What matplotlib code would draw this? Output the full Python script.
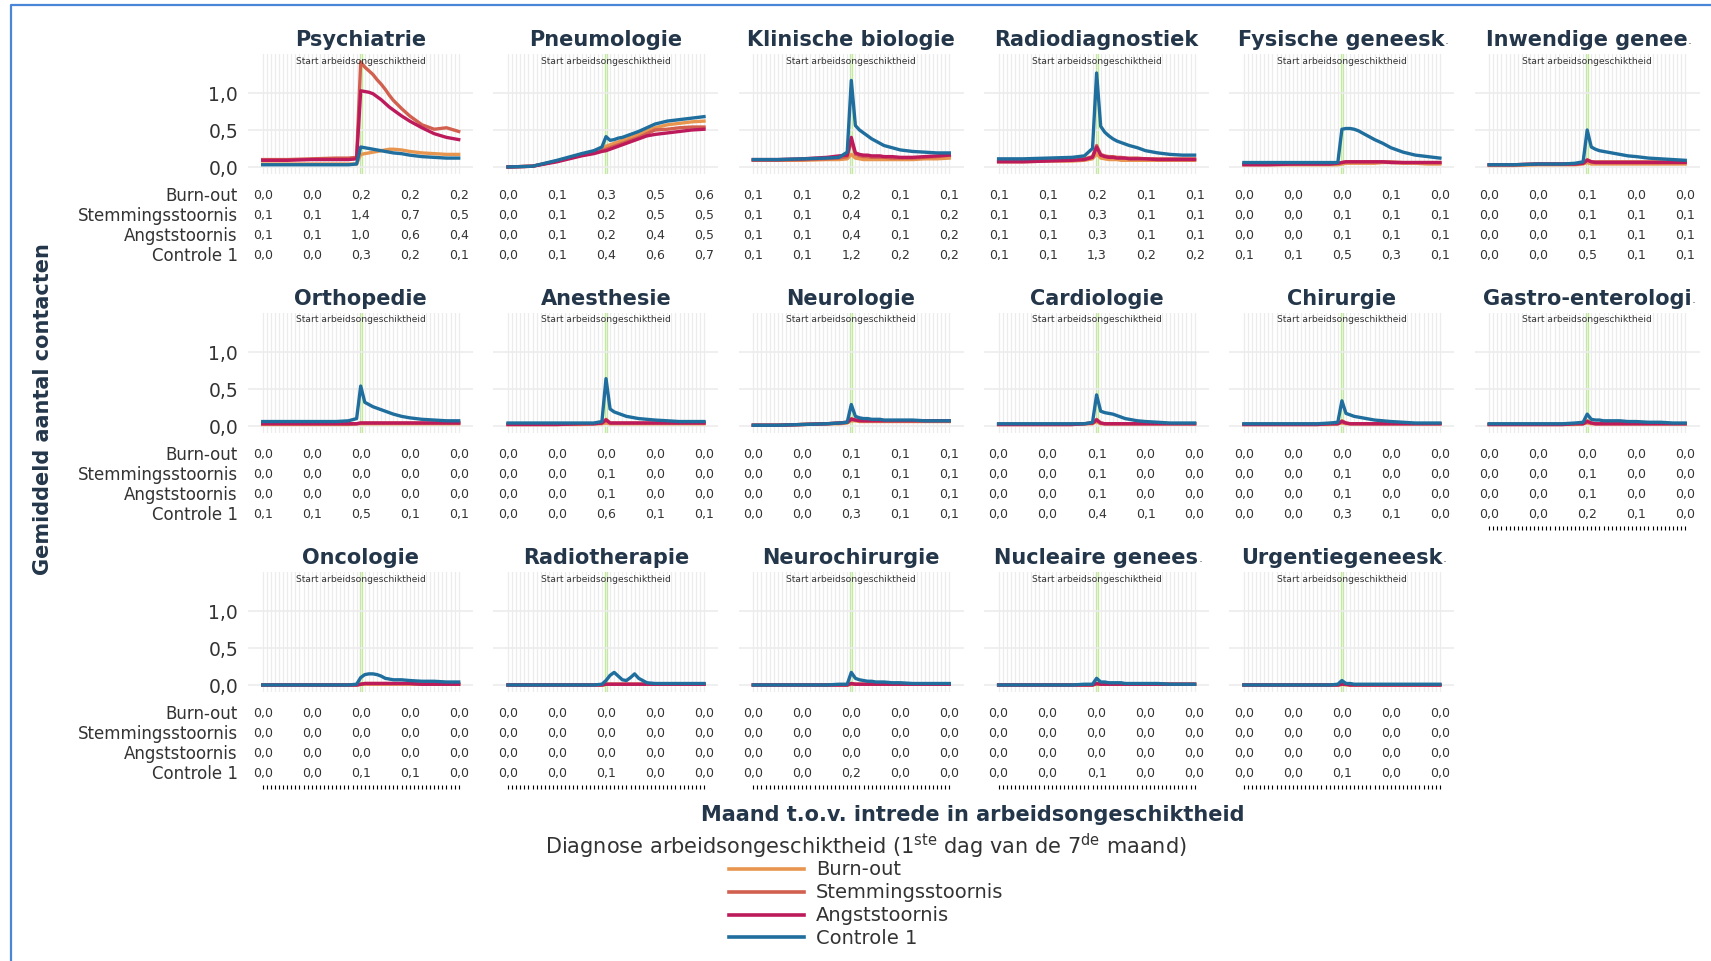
"""
Gemiddeld aantal contacten per specialisme rond de start van arbeidsongeschiktheid,
per diagnosegroep, met een tabel van de waarden op -24, -12, 0, 12 en 24 maanden.
"""

import matplotlib
matplotlib.use("Agg")
import matplotlib.pyplot as plt
from matplotlib.lines import Line2D
from matplotlib.transforms import blended_transform_factory

# ─── data ───────────────────────────────────────────────────────────────────
MONTHS = [-24, -18, -12, -6, -3, -1, 0, 1, 2, 3, 4, 5, 6, 7, 8, 10, 12, 15, 18, 21, 24]
TABLE_MONTHS = [-24, -12, 0, 12, 24]
GRID_MONTHS = list(range(-24, 25))

GROUPS = ["Burn-out", "Stemmingsstoornis", "Angststoornis", "Controle 1"]
COLORS = ["#E8964F", "#D2604F", "#BD1A5B", "#1F6E9E"]

PSY_BURN  = [0.04, 0.04, 0.04, 0.04, 0.04, 0.04, 0.17, 0.18, 0.19, 0.20, 0.21, 0.22, 0.23, 0.24, 0.24, 0.23, 0.21, 0.19, 0.18, 0.17, 0.17]
PSY_STEM  = [0.10, 0.10, 0.11, 0.12, 0.12, 0.13, 1.42, 1.35, 1.30, 1.25, 1.18, 1.12, 1.05, 0.97, 0.90, 0.79, 0.69, 0.57, 0.51, 0.53, 0.48]
PSY_ANGST = [0.09, 0.09, 0.10, 0.10, 0.10, 0.11, 1.03, 1.02, 1.01, 0.99, 0.95, 0.91, 0.86, 0.81, 0.77, 0.69, 0.62, 0.53, 0.45, 0.40, 0.37]
PSY_CTRL  = [0.03, 0.03, 0.03, 0.03, 0.03, 0.04, 0.27, 0.26, 0.25, 0.24, 0.23, 0.22, 0.21, 0.20, 0.19, 0.18, 0.16, 0.14, 0.13, 0.12, 0.12]

PNEU_BURN  = [0.00, 0.01, 0.08, 0.17, 0.21, 0.25, 0.28, 0.30, 0.32, 0.34, 0.36, 0.38, 0.40, 0.42, 0.44, 0.49, 0.53, 0.57, 0.59, 0.61, 0.62]
PNEU_STEM  = [0.00, 0.01, 0.08, 0.16, 0.19, 0.22, 0.24, 0.26, 0.28, 0.30, 0.32, 0.34, 0.36, 0.38, 0.40, 0.45, 0.50, 0.51, 0.53, 0.54, 0.54]
PNEU_ANGST = [0.00, 0.01, 0.07, 0.15, 0.18, 0.21, 0.22, 0.24, 0.26, 0.28, 0.30, 0.32, 0.34, 0.36, 0.38, 0.42, 0.44, 0.46, 0.48, 0.50, 0.51]
PNEU_CTRL  = [0.00, 0.01, 0.09, 0.18, 0.22, 0.27, 0.41, 0.36, 0.37, 0.39, 0.40, 0.42, 0.44, 0.46, 0.48, 0.53, 0.58, 0.62, 0.64, 0.66, 0.68]

KLIN_BURN  = [0.09, 0.09, 0.09, 0.10, 0.10, 0.11, 0.17, 0.12, 0.11, 0.10, 0.10, 0.10, 0.10, 0.10, 0.10, 0.10, 0.10, 0.10, 0.11, 0.11, 0.12]
KLIN_STEM  = [0.09, 0.09, 0.10, 0.11, 0.12, 0.14, 0.36, 0.17, 0.15, 0.14, 0.14, 0.13, 0.13, 0.13, 0.13, 0.12, 0.12, 0.12, 0.13, 0.14, 0.16]
KLIN_ANGST = [0.10, 0.10, 0.11, 0.13, 0.15, 0.16, 0.40, 0.19, 0.17, 0.16, 0.16, 0.15, 0.15, 0.15, 0.14, 0.14, 0.13, 0.13, 0.14, 0.15, 0.16]
KLIN_CTRL  = [0.10, 0.10, 0.11, 0.12, 0.13, 0.20, 1.17, 0.56, 0.50, 0.46, 0.42, 0.38, 0.35, 0.32, 0.29, 0.26, 0.23, 0.21, 0.20, 0.19, 0.19]

RADD_BURN  = [0.07, 0.07, 0.08, 0.08, 0.09, 0.11, 0.18, 0.12, 0.11, 0.10, 0.10, 0.10, 0.09, 0.09, 0.09, 0.09, 0.09, 0.09, 0.09, 0.09, 0.09]
RADD_STEM  = [0.08, 0.08, 0.09, 0.10, 0.11, 0.14, 0.29, 0.17, 0.15, 0.14, 0.14, 0.13, 0.13, 0.12, 0.12, 0.12, 0.11, 0.11, 0.11, 0.11, 0.11]
RADD_ANGST = [0.07, 0.07, 0.08, 0.09, 0.10, 0.13, 0.27, 0.16, 0.14, 0.13, 0.13, 0.12, 0.12, 0.12, 0.11, 0.11, 0.11, 0.10, 0.10, 0.10, 0.10]
RADD_CTRL  = [0.11, 0.11, 0.12, 0.13, 0.15, 0.25, 1.27, 0.55, 0.47, 0.42, 0.38, 0.35, 0.33, 0.31, 0.29, 0.26, 0.22, 0.19, 0.17, 0.16, 0.16]

FYS_BURN  = [0.03, 0.03, 0.03, 0.03, 0.03, 0.03, 0.04, 0.05, 0.05, 0.05, 0.05, 0.05, 0.05, 0.05, 0.05, 0.06, 0.06, 0.05, 0.05, 0.04, 0.04]
FYS_STEM  = [0.04, 0.04, 0.04, 0.04, 0.04, 0.05, 0.06, 0.07, 0.07, 0.07, 0.07, 0.07, 0.07, 0.07, 0.07, 0.07, 0.07, 0.06, 0.06, 0.06, 0.06]
FYS_ANGST = [0.03, 0.03, 0.04, 0.04, 0.04, 0.05, 0.06, 0.07, 0.07, 0.07, 0.07, 0.07, 0.07, 0.07, 0.07, 0.07, 0.06, 0.06, 0.06, 0.06, 0.06]
FYS_CTRL  = [0.06, 0.06, 0.06, 0.06, 0.06, 0.06, 0.51, 0.52, 0.52, 0.51, 0.49, 0.46, 0.43, 0.40, 0.37, 0.32, 0.26, 0.20, 0.16, 0.14, 0.12]

INW_BURN  = [0.02, 0.02, 0.03, 0.03, 0.03, 0.04, 0.06, 0.04, 0.04, 0.04, 0.04, 0.04, 0.04, 0.04, 0.04, 0.04, 0.04, 0.04, 0.04, 0.04, 0.04]
INW_STEM  = [0.03, 0.03, 0.04, 0.04, 0.04, 0.05, 0.10, 0.07, 0.07, 0.07, 0.07, 0.07, 0.07, 0.07, 0.07, 0.07, 0.07, 0.07, 0.07, 0.07, 0.07]
INW_ANGST = [0.03, 0.03, 0.04, 0.04, 0.04, 0.05, 0.09, 0.07, 0.06, 0.06, 0.06, 0.06, 0.06, 0.06, 0.06, 0.06, 0.06, 0.06, 0.06, 0.06, 0.06]
INW_CTRL  = [0.03, 0.03, 0.04, 0.04, 0.05, 0.07, 0.50, 0.27, 0.24, 0.22, 0.21, 0.20, 0.19, 0.18, 0.17, 0.15, 0.14, 0.12, 0.11, 0.10, 0.09]

ORTH_BURN  = [0.02, 0.02, 0.02, 0.02, 0.02, 0.03, 0.03, 0.03, 0.03, 0.03, 0.03, 0.03, 0.03, 0.03, 0.03, 0.03, 0.03, 0.03, 0.03, 0.03, 0.03]
ORTH_STEM  = [0.03, 0.03, 0.03, 0.03, 0.03, 0.03, 0.04, 0.04, 0.04, 0.04, 0.04, 0.04, 0.04, 0.04, 0.04, 0.04, 0.04, 0.04, 0.04, 0.04, 0.04]
ORTH_ANGST = [0.03, 0.03, 0.03, 0.03, 0.03, 0.03, 0.04, 0.04, 0.04, 0.04, 0.04, 0.04, 0.04, 0.04, 0.04, 0.04, 0.04, 0.04, 0.04, 0.04, 0.04]
ORTH_CTRL  = [0.06, 0.06, 0.06, 0.06, 0.07, 0.10, 0.54, 0.32, 0.29, 0.26, 0.24, 0.22, 0.20, 0.18, 0.16, 0.13, 0.11, 0.09, 0.08, 0.07, 0.07]

ANES_BURN  = [0.02, 0.02, 0.02, 0.02, 0.03, 0.03, 0.04, 0.03, 0.03, 0.03, 0.03, 0.03, 0.03, 0.03, 0.03, 0.03, 0.03, 0.03, 0.03, 0.03, 0.03]
ANES_STEM  = [0.02, 0.02, 0.02, 0.03, 0.03, 0.04, 0.09, 0.04, 0.04, 0.04, 0.04, 0.04, 0.04, 0.04, 0.04, 0.04, 0.04, 0.04, 0.04, 0.04, 0.04]
ANES_ANGST = [0.02, 0.02, 0.02, 0.03, 0.03, 0.04, 0.08, 0.04, 0.04, 0.04, 0.04, 0.04, 0.04, 0.04, 0.04, 0.04, 0.04, 0.04, 0.04, 0.04, 0.04]
ANES_CTRL  = [0.04, 0.04, 0.04, 0.04, 0.04, 0.06, 0.64, 0.23, 0.19, 0.17, 0.15, 0.13, 0.12, 0.11, 0.10, 0.09, 0.08, 0.07, 0.06, 0.06, 0.06]

NEUR_BURN  = [0.01, 0.01, 0.02, 0.03, 0.03, 0.04, 0.07, 0.07, 0.06, 0.06, 0.06, 0.06, 0.06, 0.06, 0.06, 0.06, 0.06, 0.06, 0.06, 0.06, 0.06]
NEUR_STEM  = [0.01, 0.01, 0.02, 0.03, 0.04, 0.05, 0.10, 0.08, 0.08, 0.07, 0.07, 0.07, 0.07, 0.07, 0.07, 0.07, 0.07, 0.07, 0.07, 0.07, 0.07]
NEUR_ANGST = [0.01, 0.01, 0.02, 0.03, 0.04, 0.05, 0.09, 0.08, 0.07, 0.07, 0.07, 0.07, 0.07, 0.07, 0.07, 0.07, 0.07, 0.07, 0.07, 0.07, 0.07]
NEUR_CTRL  = [0.01, 0.01, 0.02, 0.03, 0.04, 0.05, 0.29, 0.13, 0.11, 0.10, 0.10, 0.09, 0.09, 0.09, 0.08, 0.08, 0.08, 0.08, 0.07, 0.07, 0.07]

CARD_BURN  = [0.02, 0.02, 0.02, 0.02, 0.03, 0.03, 0.06, 0.03, 0.03, 0.03, 0.03, 0.03, 0.03, 0.03, 0.03, 0.03, 0.03, 0.03, 0.03, 0.03, 0.03]
CARD_STEM  = [0.02, 0.02, 0.02, 0.02, 0.03, 0.04, 0.09, 0.04, 0.03, 0.03, 0.03, 0.03, 0.03, 0.03, 0.03, 0.03, 0.03, 0.03, 0.03, 0.03, 0.03]
CARD_ANGST = [0.02, 0.02, 0.02, 0.02, 0.03, 0.04, 0.08, 0.04, 0.03, 0.03, 0.03, 0.03, 0.03, 0.03, 0.03, 0.03, 0.03, 0.03, 0.03, 0.03, 0.03]
CARD_CTRL  = [0.03, 0.03, 0.03, 0.03, 0.03, 0.05, 0.42, 0.20, 0.18, 0.17, 0.16, 0.14, 0.12, 0.10, 0.09, 0.07, 0.06, 0.05, 0.04, 0.04, 0.04]

CHIR_BURN  = [0.02, 0.02, 0.02, 0.02, 0.02, 0.03, 0.04, 0.03, 0.03, 0.03, 0.03, 0.03, 0.03, 0.03, 0.03, 0.03, 0.03, 0.03, 0.03, 0.03, 0.03]
CHIR_STEM  = [0.02, 0.02, 0.02, 0.02, 0.03, 0.03, 0.07, 0.04, 0.03, 0.03, 0.03, 0.03, 0.03, 0.03, 0.03, 0.03, 0.03, 0.03, 0.03, 0.03, 0.03]
CHIR_ANGST = [0.02, 0.02, 0.02, 0.02, 0.03, 0.03, 0.06, 0.04, 0.03, 0.03, 0.03, 0.03, 0.03, 0.03, 0.03, 0.03, 0.03, 0.03, 0.03, 0.03, 0.03]
CHIR_CTRL  = [0.03, 0.03, 0.03, 0.03, 0.04, 0.05, 0.34, 0.17, 0.15, 0.13, 0.12, 0.11, 0.10, 0.09, 0.08, 0.07, 0.06, 0.05, 0.04, 0.04, 0.04]

GAST_BURN  = [0.02, 0.02, 0.02, 0.02, 0.02, 0.03, 0.04, 0.03, 0.03, 0.03, 0.03, 0.03, 0.03, 0.03, 0.03, 0.03, 0.03, 0.03, 0.03, 0.03, 0.03]
GAST_STEM  = [0.02, 0.02, 0.02, 0.02, 0.03, 0.03, 0.07, 0.04, 0.03, 0.03, 0.03, 0.03, 0.03, 0.03, 0.03, 0.03, 0.03, 0.03, 0.03, 0.03, 0.03]
GAST_ANGST = [0.02, 0.02, 0.02, 0.02, 0.03, 0.03, 0.06, 0.04, 0.03, 0.03, 0.03, 0.03, 0.03, 0.03, 0.03, 0.03, 0.03, 0.03, 0.03, 0.03, 0.03]
GAST_CTRL  = [0.03, 0.03, 0.03, 0.03, 0.04, 0.05, 0.16, 0.09, 0.08, 0.08, 0.07, 0.07, 0.07, 0.07, 0.07, 0.06, 0.06, 0.05, 0.05, 0.04, 0.04]

ONCO_BURN  = [0.00, 0.00, 0.00, 0.00, 0.00, 0.00, 0.01, 0.01, 0.01, 0.01, 0.01, 0.01, 0.01, 0.01, 0.01, 0.01, 0.01, 0.01, 0.01, 0.01, 0.01]
ONCO_STEM  = [0.00, 0.00, 0.00, 0.00, 0.00, 0.00, 0.01, 0.02, 0.02, 0.02, 0.02, 0.02, 0.02, 0.02, 0.02, 0.02, 0.02, 0.01, 0.01, 0.01, 0.01]
ONCO_ANGST = [0.00, 0.00, 0.00, 0.00, 0.00, 0.00, 0.01, 0.02, 0.02, 0.02, 0.02, 0.02, 0.02, 0.02, 0.02, 0.02, 0.02, 0.01, 0.01, 0.01, 0.01]
ONCO_CTRL  = [0.00, 0.00, 0.00, 0.00, 0.00, 0.01, 0.10, 0.14, 0.15, 0.15, 0.14, 0.12, 0.09, 0.08, 0.07, 0.07, 0.06, 0.05, 0.05, 0.04, 0.04]

RADT_BURN  = [0.00, 0.00, 0.00, 0.00, 0.00, 0.00, 0.01, 0.01, 0.01, 0.01, 0.01, 0.01, 0.01, 0.01, 0.01, 0.01, 0.01, 0.01, 0.01, 0.01, 0.01]
RADT_STEM  = [0.00, 0.00, 0.00, 0.00, 0.00, 0.00, 0.01, 0.01, 0.01, 0.01, 0.01, 0.01, 0.01, 0.01, 0.01, 0.01, 0.01, 0.01, 0.01, 0.01, 0.01]
RADT_ANGST = [0.00, 0.00, 0.00, 0.00, 0.00, 0.00, 0.01, 0.01, 0.01, 0.01, 0.01, 0.01, 0.01, 0.01, 0.01, 0.01, 0.01, 0.01, 0.01, 0.01, 0.01]
RADT_CTRL  = [0.00, 0.00, 0.00, 0.00, 0.00, 0.01, 0.06, 0.13, 0.17, 0.12, 0.07, 0.06, 0.10, 0.15, 0.09, 0.03, 0.02, 0.02, 0.02, 0.02, 0.02]

NCHI_BURN  = [0.00, 0.00, 0.00, 0.00, 0.00, 0.00, 0.01, 0.01, 0.01, 0.01, 0.01, 0.01, 0.01, 0.01, 0.01, 0.01, 0.01, 0.01, 0.01, 0.01, 0.01]
NCHI_STEM  = [0.00, 0.00, 0.00, 0.00, 0.00, 0.00, 0.02, 0.01, 0.01, 0.01, 0.01, 0.01, 0.01, 0.01, 0.01, 0.01, 0.01, 0.01, 0.01, 0.01, 0.01]
NCHI_ANGST = [0.00, 0.00, 0.00, 0.00, 0.00, 0.00, 0.02, 0.01, 0.01, 0.01, 0.01, 0.01, 0.01, 0.01, 0.01, 0.01, 0.01, 0.01, 0.01, 0.01, 0.01]
NCHI_CTRL  = [0.00, 0.00, 0.00, 0.00, 0.01, 0.01, 0.17, 0.09, 0.07, 0.06, 0.05, 0.05, 0.04, 0.04, 0.04, 0.03, 0.03, 0.02, 0.02, 0.02, 0.02]

NUCL_BURN  = [0.00, 0.00, 0.00, 0.00, 0.00, 0.00, 0.01, 0.01, 0.01, 0.01, 0.01, 0.01, 0.01, 0.01, 0.01, 0.01, 0.01, 0.01, 0.01, 0.01, 0.01]
NUCL_STEM  = [0.00, 0.00, 0.00, 0.00, 0.00, 0.00, 0.02, 0.01, 0.01, 0.01, 0.01, 0.01, 0.01, 0.01, 0.01, 0.01, 0.01, 0.01, 0.01, 0.01, 0.01]
NUCL_ANGST = [0.00, 0.00, 0.00, 0.00, 0.00, 0.00, 0.02, 0.01, 0.01, 0.01, 0.01, 0.01, 0.01, 0.01, 0.01, 0.01, 0.01, 0.01, 0.01, 0.01, 0.01]
NUCL_CTRL  = [0.00, 0.00, 0.00, 0.00, 0.01, 0.01, 0.09, 0.04, 0.04, 0.03, 0.03, 0.03, 0.03, 0.02, 0.02, 0.02, 0.02, 0.02, 0.01, 0.01, 0.01]

URG_BURN  = [0.00, 0.00, 0.00, 0.00, 0.00, 0.00, 0.01, 0.00, 0.00, 0.00, 0.00, 0.00, 0.00, 0.00, 0.00, 0.00, 0.00, 0.00, 0.00, 0.00, 0.00]
URG_STEM  = [0.00, 0.00, 0.00, 0.00, 0.00, 0.00, 0.01, 0.01, 0.00, 0.00, 0.00, 0.00, 0.00, 0.00, 0.00, 0.00, 0.00, 0.00, 0.00, 0.00, 0.00]
URG_ANGST = [0.00, 0.00, 0.00, 0.00, 0.00, 0.00, 0.01, 0.01, 0.00, 0.00, 0.00, 0.00, 0.00, 0.00, 0.00, 0.00, 0.00, 0.00, 0.00, 0.00, 0.00]
URG_CTRL  = [0.00, 0.00, 0.00, 0.00, 0.00, 0.01, 0.06, 0.02, 0.02, 0.01, 0.01, 0.01, 0.01, 0.01, 0.01, 0.01, 0.01, 0.01, 0.01, 0.01, 0.01]

# paneeltitels; True = titel is afgekapt
TITLES = [
    ("Psychiatrie", False), ("Pneumologie", False), ("Klinische biologie", False),
    ("Radiodiagnostiek", False), ("Fysische geneesk", True), ("Inwendige genee", True),
    ("Orthopedie", False), ("Anesthesie", False), ("Neurologie", False),
    ("Cardiologie", False), ("Chirurgie", False), ("Gastro-enterologi", True),
    ("Oncologie", False), ("Radiotherapie", False), ("Neurochirurgie", False),
    ("Nucleaire genees", True), ("Urgentiegeneesk", True),
]
SERIES = [
    [PSY_BURN, PSY_STEM, PSY_ANGST, PSY_CTRL],
    [PNEU_BURN, PNEU_STEM, PNEU_ANGST, PNEU_CTRL],
    [KLIN_BURN, KLIN_STEM, KLIN_ANGST, KLIN_CTRL],
    [RADD_BURN, RADD_STEM, RADD_ANGST, RADD_CTRL],
    [FYS_BURN, FYS_STEM, FYS_ANGST, FYS_CTRL],
    [INW_BURN, INW_STEM, INW_ANGST, INW_CTRL],
    [ORTH_BURN, ORTH_STEM, ORTH_ANGST, ORTH_CTRL],
    [ANES_BURN, ANES_STEM, ANES_ANGST, ANES_CTRL],
    [NEUR_BURN, NEUR_STEM, NEUR_ANGST, NEUR_CTRL],
    [CARD_BURN, CARD_STEM, CARD_ANGST, CARD_CTRL],
    [CHIR_BURN, CHIR_STEM, CHIR_ANGST, CHIR_CTRL],
    [GAST_BURN, GAST_STEM, GAST_ANGST, GAST_CTRL],
    [ONCO_BURN, ONCO_STEM, ONCO_ANGST, ONCO_CTRL],
    [RADT_BURN, RADT_STEM, RADT_ANGST, RADT_CTRL],
    [NCHI_BURN, NCHI_STEM, NCHI_ANGST, NCHI_CTRL],
    [NUCL_BURN, NUCL_STEM, NUCL_ANGST, NUCL_CTRL],
    [URG_BURN, URG_STEM, URG_ANGST, URG_CTRL],
]

# ─── layout (pixels) ────────────────────────────────────────────────────────
W, H, DPI = 1711, 962, 100
N_COLS = 6
AX_LEFT, AX_TOP = 248, 55
AX_W, AX_H = 225, 120
COL_STEP, ROW_STEP = 245.3, 259
TABLE_ROWS_PX = [21, 41, 61, 81]      # afstand onder de as
TICKS_PX = 93

TITLE_COLOR = "#24364A"
TEXT_COLOR = "#333333"
GRID_COLOR = "#ECECEC"
NARROW = ["Liberation Sans Narrow", "DejaVu Sans"]


def fmt(v):
    return f"{v:.1f}".replace(".", ",")


def draw_panel(fig, idx):
    r, c = divmod(idx, N_COLS)
    left = AX_LEFT + c * COL_STEP
    top = AX_TOP + r * ROW_STEP
    ax = fig.add_axes([left / W, 1 - (top + AX_H) / H, AX_W / W, AX_H / H])

    title, truncated = TITLES[idx]
    series = SERIES[idx]

    ax.set_xlim(-27.6, 27.5)
    ax.set_ylim(-0.095, 1.527)
    for s in ax.spines.values():
        s.set_visible(False)

    # maandelijkse verticale rasterlijnen + horizontale op 0 / 0,5 / 1
    ax.set_xticks(GRID_MONTHS)
    ax.set_yticks([0, 0.5, 1.0])
    ax.grid(axis="x", color=GRID_COLOR, lw=0.9, zorder=0)
    ax.grid(axis="y", color=GRID_COLOR, lw=1.2, zorder=0)

    is_bottom = idx + N_COLS >= len(TITLES)
    ax.spines["bottom"].set_position(("outward", TICKS_PX * 72 / DPI))
    ax.tick_params(axis="x", labelbottom=False, length=3.2 if is_bottom else 0,
                   width=0.8, color="black")
    ax.tick_params(axis="y", length=0, pad=7.2, labelsize=13.5, labelcolor=TEXT_COLOR)
    if c == 0:
        ax.set_yticklabels([fmt(t) for t in (0, 0.5, 1.0)])
    else:
        ax.set_yticklabels([])

    ax.axvline(0, color="#BDEB8F", lw=2.4, zorder=1)
    for vals, col in zip(series, COLORS):
        ax.plot(MONTHS, vals, color=col, lw=2.4, solid_joinstyle="round", zorder=2)

    ax.text(0, 1 - 6 / AX_H, "Start arbeidsongeschiktheid", ha="center", va="center",
            fontsize=6.6, family=NARROW, color=TEXT_COLOR,
            transform=blended_transform_factory(ax.transData, ax.transAxes))

    t = ax.text(0.5, 1 + 15 / AX_H, title, ha="center", va="center", fontsize=15,
                fontweight="bold", color=TITLE_COLOR, transform=ax.transAxes)
    if truncated:
        ax.annotate(".", xy=(1, 0.15), xycoords=t, fontsize=9, color="#666666",
                    ha="left", va="bottom")

    # tabel met waarden onder het paneel
    trans = blended_transform_factory(ax.transData, ax.transAxes)
    for vals, dy, label in zip(series, TABLE_ROWS_PX, GROUPS):
        y = -dy / AX_H
        for m in TABLE_MONTHS:
            ax.text(m, y, fmt(vals[MONTHS.index(m)]), ha="center", va="center",
                    fontsize=9, color=TEXT_COLOR, transform=trans, clip_on=False)
        if c == 0:
            ax.text(-10 / AX_W, y, label, ha="right", va="center", fontsize=12,
                    color=TEXT_COLOR, transform=ax.transAxes, clip_on=False)
    return ax


def main():
    fig = plt.figure(figsize=(W / DPI, H / DPI), dpi=DPI)
    fig.patch.set_facecolor("white")

    # overlay in pixelcoördinaten voor kader, astitels en legenda
    ov = fig.add_axes([0, 0, 1, 1], zorder=-1)
    ov.set_xlim(0, W)
    ov.set_ylim(H, 0)
    ov.axis("off")
    ov.plot([11, 11, W + 5], [H + 5, 6, 6], color="#4A86D8", lw=1.6)

    for i in range(len(TITLES)):
        draw_panel(fig, i)

    ov.text(43, 409, "Gemiddeld aantal contacten", rotation=90, ha="center",
            va="center", fontsize=15, fontweight="bold", color=TITLE_COLOR)
    ov.text(973, 815, "Maand t.o.v. intrede in arbeidsongeschiktheid", ha="center",
            va="center", fontsize=15, fontweight="bold", color=TITLE_COLOR)
    ov.text(866, 846,
            r"Diagnose arbeidsongeschiktheid (1$^{\mathrm{ste}}$ dag van de 7$^{\mathrm{de}}$ maand)",
            ha="center", va="center", fontsize=15, color=TEXT_COLOR)

    for k, (label, col) in enumerate(zip(GROUPS, COLORS)):
        y = 870 + k * 22.8
        ov.add_line(Line2D([729, 804], [y, y], color=col, lw=2.6))
        ov.text(816, y, label, ha="left", va="center", fontsize=14, color=TEXT_COLOR)

    fig.savefig("out.png", dpi=DPI)
    plt.close(fig)


if __name__ == "__main__":
    main()
